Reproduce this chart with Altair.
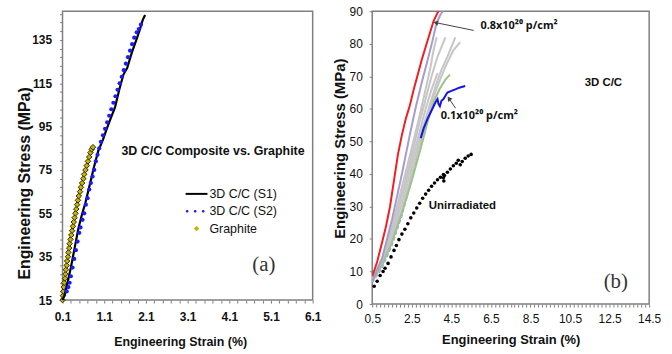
import altair as alt
import pandas as pd

NARROW = "Liberation Sans Narrow, Arial Narrow, Liberation Sans, Arial, sans-serif"
SANS = "Liberation Sans, Arial, sans-serif"
SUPFONT = "Noto Sans, DejaVu Sans, sans-serif"
SERIF = "Liberation Serif, Times New Roman, serif"

# ---------------- Panel (a) data ----------------
series_names = ["3D C/C (S1)", "3D C/C (S2)", "Graphite"]
series_colors = ["#000000", "#1a1aff", "#c8b400"]

s1_strain = [0.10, 0.16, 0.22, 0.30, 0.40, 0.48, 0.56, 0.65, 0.75, 0.85, 0.96, 1.07,
             1.16, 1.26, 1.36, 1.46, 1.56, 1.65, 1.76, 1.87, 1.96, 2.02, 2.08]
s1_stress = [15, 18, 23, 30, 40, 48, 54, 60, 68, 76, 84, 89,
             94, 99, 104, 112, 119, 122, 129, 135, 140, 144, 146.5]

s2_strain = [0.20, 0.24, 0.27, 0.30, 0.34, 0.38, 0.42, 0.46, 0.50, 0.53, 0.58, 0.62, 0.66, 0.70,
             0.74, 0.78, 0.82, 0.86, 0.90, 0.94, 0.98, 1.02, 1.07, 1.12, 1.17, 1.22, 1.27, 1.32,
             1.37, 1.42, 1.47, 1.52, 1.57, 1.62, 1.67, 1.72, 1.77, 1.82, 1.88, 1.93, 1.98]
s2_stress = [19, 21, 23, 26, 30, 34, 38, 42, 46, 48.5, 52, 55, 59, 62,
             66, 69, 72, 75, 79, 82, 85, 88, 91, 94, 97, 100, 103, 106,
             109, 112, 115, 118, 121, 124, 127, 130, 133, 136, 138.5, 140, 142]

gr_strain = [0.10, 0.11, 0.12, 0.13, 0.14, 0.16, 0.17, 0.18, 0.20, 0.21, 0.23, 0.24, 0.26,
             0.27, 0.29, 0.31, 0.33, 0.35, 0.37, 0.39, 0.41, 0.43, 0.45, 0.47, 0.49, 0.52,
             0.54, 0.57, 0.60, 0.62, 0.65, 0.68, 0.71, 0.74, 0.77, 0.80, 0.83]
gr_stress = [15, 17, 19, 21, 23, 25, 27, 29, 31, 33, 35, 37, 39,
             41, 43, 45, 47, 49, 51, 53, 55, 57, 59, 61, 63, 65,
             67, 69, 71, 73, 75, 77, 79, 81, 83, 84.5, 85.5]

a_text = ["3D C/C Composite vs. Graphite"]
a_text_x = [3.71]
a_text_y = [83.6]
a_tag = ["(a)"]
a_tag_x = [4.65]
a_tag_y = [31]

# ---------------- Panel (b) data ----------------
red_strain = [0.5, 0.75, 1.0, 1.2, 1.4, 1.6, 1.8, 2.0, 2.2, 2.4, 2.6, 2.8, 3.0, 3.2, 3.4, 3.6, 3.8, 3.85]
red_stress = [8.5, 13, 19, 24, 30, 38, 46, 52, 57, 61, 66, 70.5, 75, 79, 83, 87, 89.5, 90]

lav_strain = [0.5, 1.0, 1.5, 2.0, 2.4, 2.7, 3.0, 3.3, 3.55, 3.7, 3.8, 3.95, 4.08]
lav_stress = [7, 14, 26, 40, 52, 60.5, 68, 75, 81, 85, 87, 89, 90]

gray_ids = ["g1"] * 11 + ["g2"] * 12 + ["g3"] * 11 + ["g4"] * 9 + ["g5"] * 10
gray_strain = [0.5, 1.0, 1.5, 2.0, 2.5, 2.9, 3.2, 3.5, 3.8, 4.0, 4.2,
               0.5, 1.0, 1.5, 2.0, 2.5, 3.0, 3.35, 3.7, 4.0, 4.3, 4.5, 4.7,
               0.5, 1.0, 1.5, 2.0, 2.5, 3.0, 3.4, 3.8, 4.2, 4.6, 4.95,
               0.5, 1.0, 1.5, 2.0, 2.5, 2.9, 3.2, 3.5, 3.8,
               0.5, 1.0, 1.5, 2.0, 2.5, 2.9, 3.2, 3.45, 3.6, 3.76]
gray_stress = [7.5, 13, 23, 34, 46, 56, 63, 70, 76, 79, 82,
               7, 12.5, 21, 31, 42, 53, 60, 67, 72, 76, 79, 82,
               7, 12, 20, 29, 40, 51, 60, 67, 73, 78, 80.5,
               7, 13, 22, 33, 44, 53, 60, 66, 71,
               8, 14, 24, 36, 48, 58, 66, 73, 78, 82]

green_strain = [0.5, 1.0, 1.5, 2.0, 2.5, 3.0, 3.3, 3.6, 3.9, 4.2, 4.43]
green_stress = [7, 12, 19, 28, 38, 49, 56, 62, 66, 69, 70.5]

blue_strain = [2.95, 3.1, 3.3, 3.5, 3.7, 3.8, 3.85, 3.92, 4.0, 4.1, 4.2, 4.3, 4.5, 4.7, 4.9, 5.2]
blue_stress = [51, 54, 57, 59.5, 62, 63, 61.5, 60.8, 62.5, 63, 64, 65, 65.5, 66, 66.5, 67]

fblue_strain = [0.5, 1.0, 1.5, 2.0, 2.5, 2.95]
fblue_stress = [6.5, 11, 18, 27, 38, 51]

un_strain = [0.6, 0.75, 0.9, 1.05, 1.15, 1.3, 1.45, 1.6, 1.72, 1.85, 2.0, 2.15, 2.3, 2.45, 2.6,
             2.75, 2.9, 3.05, 3.2, 3.35, 3.5, 3.65, 3.8, 3.95, 4.1, 4.1, 4.12, 4.15, 4.3, 4.45,
             4.6, 4.75, 4.85, 4.95, 5.05, 5.2, 5.35, 5.5]
un_stress = [5.5, 7, 8.8, 10, 11, 12.5, 14.5, 16.5, 18, 19.8, 21.5, 23, 24.7, 26.5, 28,
             29.5, 31, 32.5, 33.8, 35, 36.2, 37.2, 38.2, 39, 39.8, 38.8, 37.8, 39.5, 40.5, 41.5,
             42.5, 43.3, 44.2, 42.8, 43.8, 44.8, 45.5, 46]

b_sup_text = ["0.8x10²⁰ p/cm²", "0.1x10²⁰ p/cm²"]
b_sup_x = [5.97, 3.96]
b_sup_y = [85.4, 57.7]
b_bold_text = ["3D C/C", "Unirradiated"]
b_bold_x = [11.24, 3.36]
b_bold_y = [68.0, 30.2]
b_tag = ["(b)"]
b_tag_x = [12.2]
b_tag_y = [6.7]

arrow_x = [5.63, 4.71]
arrow_y = [84.1, 60.2]
arrow_x2 = [3.71, 4.38]
arrow_y2 = [86.5, 63.2]
arrow_angle = [281, 326]

# ---------------- tick values ----------------
xa_ticks = [round(0.1 + 0.2 * i, 1) for i in range(31)]
ya_ticks = list(range(15, 148, 4))
xb_ticks = [round(0.5 + 0.2 * i, 1) for i in range(71)]
yb_ticks = list(range(0, 91, 10))

GRAYLINE = "#808080"

def mk_axis(values, label_expr, title, bold, title_x, title_y, lab_pad, title_size, lab_size):
    return alt.Axis(values=values, labelExpr=label_expr, title=title, grid=False, domain=False,
                    ticks=True, tickSize=3, tickColor=GRAYLINE, labelFont=NARROW, labelFontSize=lab_size,
                    labelFontWeight="bold" if bold else "normal", labelColor="#111",
                    labelPadding=lab_pad, titleFont=NARROW, titleFontSize=title_size,
                    titleFontWeight="bold", titleColor="#111", titleX=title_x, titleY=title_y,
                    titleBaseline="middle", titleAlign="center", labelFlush=False, labelOverlap=False)

xa_axis = mk_axis(xa_ticks,
                  "abs((datum.value - 0.1) % 1) < 0.05 || abs(((datum.value - 0.1) % 1) - 1) < 0.05 ? format(datum.value, '.1f') : ''",
                  "Engineering Strain (%)", True, 118.5, 42, 9, 12.5, 12)
ya_axis = mk_axis(ya_ticks, "(datum.value - 15) % 20 == 0 ? datum.label : ''",
                  "Engineering Stress (MPa)", True, -38, 173, 8, 16, 12)
xb_axis = mk_axis(xb_ticks,
                  "abs((datum.value - 0.5) % 2) < 0.05 || abs(((datum.value - 0.5) % 2) - 2) < 0.05 ? format(datum.value, '.1f') : ''",
                  "Engineering Strain (%)", False, 139.5, 36, 7, 13, 12)
yb_axis = mk_axis(yb_ticks, "datum.label", "Engineering Stress (MPa)", False, -33, 138, 7, 15, 12)

# ---------------- Panel (a) ----------------
df_s1 = pd.DataFrame({"strain": s1_strain, "stress": s1_stress})
df_s2 = pd.DataFrame({"strain": s2_strain, "stress": s2_stress})
df_gr = pd.DataFrame({"strain": gr_strain, "stress": gr_stress, "series": series_names[2]})

xa = alt.X("strain:Q", scale=alt.Scale(domain=[0.1, 6.1], nice=False, zero=False), axis=xa_axis)
ya = alt.Y("stress:Q", scale=alt.Scale(domain=[15, 148.2], nice=False, zero=False), axis=ya_axis)

line_path = "M-1.22,-0.11H1.22V0.11H-1.22Z"
dots_path = " ".join(
    f"M{c - 0.15:.2f},0a0.15,0.15 0 1,0 0.30,0a0.15,0.15 0 1,0 -0.30,0" for c in [-1.05, -0.15, 0.75])
dia_path = "M0,-0.3L0.3,0L0,0.3L-0.3,0Z"
series_shapes = [line_path, dots_path, dia_path]

legend_a = alt.Legend(
    title=None, orient="none", legendX=126, legendY=175, symbolSize=324, padding=0,
    rowPadding=1.5, labelOffset=4, labelFont=SANS, labelFontSize=12.5, labelColor="#111",
    symbolStrokeWidth=0, symbolOpacity=1)
col_a = alt.Color("series:N", scale=alt.Scale(domain=series_names, range=series_colors), legend=legend_a)
shp_a = alt.Shape("series:N", scale=alt.Scale(domain=series_names, range=series_shapes), legend=legend_a)

a_gr = alt.Chart(df_gr).mark_point(filled=True, size=340, stroke="#2e2a00",
                                   strokeWidth=1, opacity=1).encode(x=xa, y=ya, color=col_a, shape=shp_a)
a_s2 = alt.Chart(df_s2).mark_circle(size=18, opacity=1, color="#1a1aff").encode(x=xa, y=ya)
a_s1 = alt.Chart(df_s1).mark_line(strokeWidth=2.2, color="#000000").encode(x=xa, y=ya)

df_at = pd.DataFrame({"strain": a_text_x, "stress": a_text_y, "t": a_text})
a_title = alt.Chart(df_at).mark_text(font=SANS, fontSize=12.5, fontWeight="bold", color="#111").encode(
    x=xa, y=ya, text="t:N")
df_atag = pd.DataFrame({"strain": a_tag_x, "stress": a_tag_y, "t": a_tag})
a_tagm = alt.Chart(df_atag).mark_text(font=SERIF, fontSize=21, color="#333", align="left").encode(
    x=xa, y=ya, text="t:N")

panel_a = alt.layer(a_gr, a_s1, a_s2, a_title, a_tagm).properties(width=252, height=291)

# ---------------- Panel (b) ----------------
xb = alt.X("strain:Q", scale=alt.Scale(domain=[0.5, 14.5], nice=False, zero=False), axis=xb_axis)
yb = alt.Y("stress:Q", scale=alt.Scale(domain=[0, 90], nice=False, zero=False), axis=yb_axis)

def ldf(xs, ys):
    return pd.DataFrame({"strain": xs, "stress": ys})

df_gray = pd.DataFrame({"strain": gray_strain, "stress": gray_stress, "curve": gray_ids})

b_fblue = alt.Chart(ldf(fblue_strain, fblue_stress)).mark_line(
    color="#7f7fff", strokeDash=[4, 2], strokeWidth=1.2, opacity=0.8).encode(x=xb, y=yb)
b_gray = alt.Chart(df_gray).mark_line(color="#c6c6c6", strokeWidth=2).encode(x=xb, y=yb, detail="curve:N")
b_green = alt.Chart(ldf(green_strain, green_stress)).mark_line(color="#9cc287", strokeWidth=2).encode(x=xb, y=yb)
b_blue = alt.Chart(ldf(blue_strain, blue_stress)).mark_line(color="#1414e6", strokeWidth=2).encode(x=xb, y=yb)
b_lav = alt.Chart(ldf(lav_strain, lav_stress)).mark_line(color="#a79bcb", strokeWidth=2, clip=True).encode(x=xb, y=yb)
b_red = alt.Chart(ldf(red_strain, red_stress)).mark_line(color="#f01e1e", strokeWidth=2, clip=True).encode(x=xb, y=yb)
b_un = alt.Chart(ldf(un_strain, un_stress)).mark_circle(color="#000000", size=13, opacity=1).encode(x=xb, y=yb)

df_arrow = pd.DataFrame({"strain": arrow_x, "stress": arrow_y, "x2": arrow_x2, "y2": arrow_y2})
b_arrow = alt.Chart(df_arrow).mark_rule(color="#444444", strokeWidth=1).encode(
    x=xb, y=yb, x2="x2:Q", y2="y2:Q")
df_head = pd.DataFrame({"strain": arrow_x2, "stress": arrow_y2, "ang": arrow_angle})
b_head = alt.Chart(df_head).mark_point(shape="triangle-up", filled=True, size=30, color="#444444",
                                       opacity=1).encode(x=xb, y=yb, angle=alt.Angle("ang:Q", scale=None))

df_bs = pd.DataFrame({"strain": b_sup_x, "stress": b_sup_y, "t": b_sup_text})
b_sup = alt.Chart(df_bs).mark_text(font=SUPFONT, fontSize=11, fontWeight="bold", color="#111", align="left").encode(
    x=xb, y=yb, text="t:N")
df_bt = pd.DataFrame({"strain": b_bold_x, "stress": b_bold_y, "t": b_bold_text})
b_text = alt.Chart(df_bt).mark_text(font=SANS, fontSize=11.5, fontWeight="bold", color="#111", align="left").encode(
    x=xb, y=yb, text="t:N")
df_btag = pd.DataFrame({"strain": b_tag_x, "stress": b_tag_y, "t": b_tag})
b_tagm = alt.Chart(df_btag).mark_text(font=SERIF, fontSize=21, color="#333", align="left").encode(
    x=xb, y=yb, text="t:N")

panel_b = alt.layer(b_fblue, b_gray, b_green, b_blue, b_lav, b_red, b_un, b_arrow, b_head, b_sup, b_text, b_tagm
                    ).properties(width=279, height=295)

chart = alt.hconcat(panel_a, panel_b, spacing=60, bounds="flush").resolve_scale(
    color="independent", shape="independent").properties(
    padding={"left": 16, "top": 3, "right": 10, "bottom": 5}, background="white"
).configure_view(stroke=GRAYLINE, strokeWidth=1.5)

chart.save("out.html", embed_options={"renderer": "svg", "actions": False})
